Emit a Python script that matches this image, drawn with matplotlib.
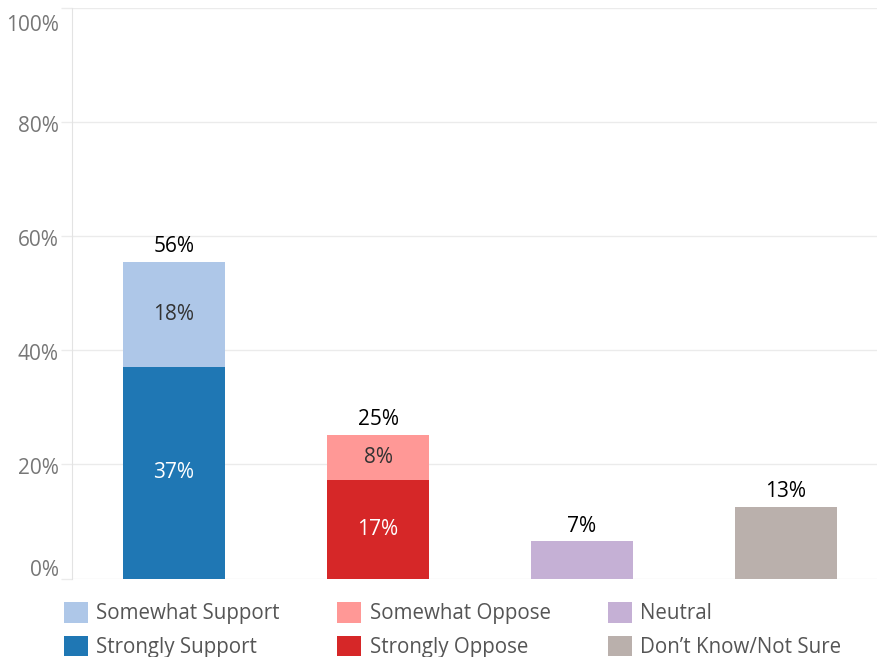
import matplotlib.pyplot as plt
from matplotlib.patches import Patch
import matplotlib.transforms as mtransforms

plt.rcParams['font.family'] = ['Open Sans', 'DejaVu Sans']

# data (percent)
positions = [0, 1, 2, 3]
strong_vals = [37.1, 17.2, 0, 0]
somewhat_vals = [18.45, 8.0, 0, 0]
neutral_vals = [0, 0, 6.55, 0]
dk_vals = [0, 0, 0, 12.6]
strong_colors = ['#1f77b4', '#d62728']
somewhat_colors = ['#aec7e8', '#ff9896']
neutral_color = '#c5b0d5'
dk_color = '#bab0ac'
legend_labels = ['Somewhat Support', 'Strongly Support', 'Somewhat Oppose',
                 'Strongly Oppose', 'Neutral', 'Don\u2019t Know/Not Sure']
legend_colors = ['#aec7e8', '#1f77b4', '#ff9896', '#d62728', '#c5b0d5', '#bab0ac']
yticks = [0, 20, 40, 60, 80, 100]

W, H = 877, 657
FS = 15
LFS = 14.8
fig = plt.figure(figsize=(W / 100, H / 100), dpi=100)
ax = fig.add_axes([72 / W, 1 - 578.5 / H, (877 - 72) / W, (578.5 - 8) / H])

bw = 0.5
grid_c = '#ebebeb'

# stacked support / oppose bars
for i in range(2):
    ax.bar(positions[i], strong_vals[i], width=bw, color=strong_colors[i], zorder=3)
    ax.bar(positions[i], somewhat_vals[i], bottom=strong_vals[i], width=bw,
           color=somewhat_colors[i], zorder=3)
    ax.text(positions[i], strong_vals[i] / 2, f"{strong_vals[i]:.0f}%", ha='center',
            va='center', color='white', fontsize=FS, zorder=4)
    ax.text(positions[i], strong_vals[i] + somewhat_vals[i] / 2, f"{somewhat_vals[i]:.0f}%",
            ha='center', va='center', color='#333333', fontsize=FS, zorder=4)
    tot = strong_vals[i] + somewhat_vals[i]
    ax.text(positions[i], tot + 0.8, f"{tot:.0f}%", ha='center', va='bottom',
            color='black', fontsize=FS, zorder=4)

ax.bar(positions[2], neutral_vals[2], width=bw, color=neutral_color, zorder=3)
ax.text(positions[2], neutral_vals[2] + 0.8, f"{neutral_vals[2]:.0f}%", ha='center',
        va='bottom', color='black', fontsize=FS)
ax.bar(positions[3], dk_vals[3], width=bw, color=dk_color, zorder=3)
ax.text(positions[3], dk_vals[3] + 0.8, f"{dk_vals[3]:.0f}%", ha='center',
        va='bottom', color='black', fontsize=FS)

ax.set_xlim(-0.5, 3.446)
ax.set_ylim(0, 100)
ax.set_xticks([])
ax.set_yticks(yticks)
ax.set_yticklabels([f"{t}%" for t in yticks])
ax.tick_params(axis='y', length=8, color=grid_c, width=1, pad=1.5,
               labelsize=FS, labelcolor='#777777')
ax.yaxis.grid(True, color=grid_c, linewidth=1, zorder=0)
for s in ['top', 'right', 'bottom']:
    ax.spines[s].set_visible(False)
ax.spines['left'].set_color('#e3e3e3')

# tableau nudges the end labels inward
labs = ax.get_yticklabels()
labs[0].set_transform(labs[0].get_transform() + mtransforms.ScaledTranslation(0, 11 / 100, fig.dpi_scale_trans))
labs[-1].set_transform(labs[-1].get_transform() + mtransforms.ScaledTranslation(0, -15 / 100, fig.dpi_scale_trans))
for lab in labs[1:-1]:
    lab.set_transform(lab.get_transform() + mtransforms.ScaledTranslation(0, -2 / 100, fig.dpi_scale_trans))

handles = [Patch(facecolor=c, edgecolor='none') for c in legend_colors]
fig.legend(handles, legend_labels, ncol=3, loc='upper left',
           bbox_to_anchor=(64 / W, 1 - 602 / H), frameon=False, fontsize=LFS,
           handlelength=1.17, handleheight=1.17, handletextpad=0.4,
           labelspacing=0.55, columnspacing=2.8, borderpad=0, borderaxespad=0,
           labelcolor='#555555')

fig.savefig('out.png', dpi=100)
